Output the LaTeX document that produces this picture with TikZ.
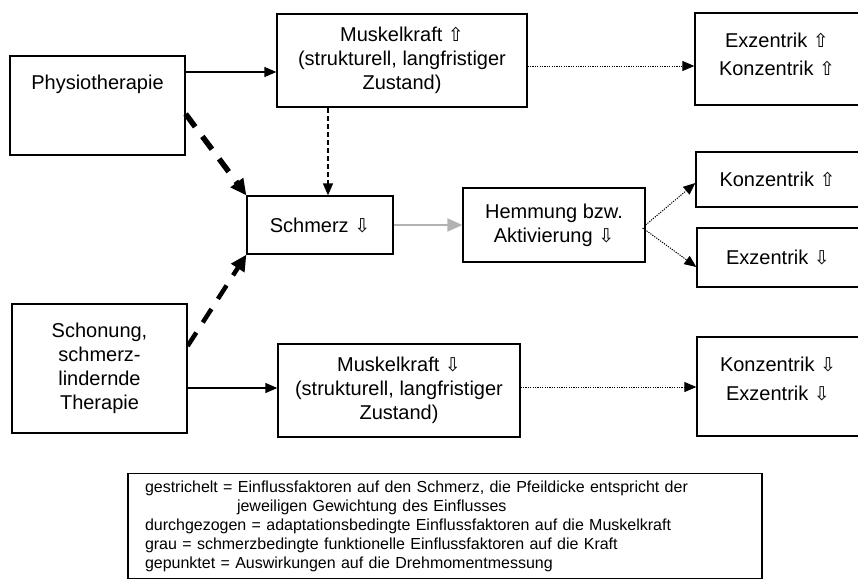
\documentclass[tikz,border=0pt]{standalone}
\usepackage{fontspec}
\setmainfont{Liberation Sans}
\newfontfamily\pfeilfont{DejaVu Sans}[Scale=0.95]
\usetikzlibrary{arrows.meta}
\newcommand\pfauf{{\pfeilfont ⇧}}
\newcommand\pfab{{\pfeilfont ⇩}}
\tikzset{
  box/.style={draw, line width=1.3pt, inner sep=0pt, align=center},
  durch/.style={line width=1.3pt, -{Triangle[length=12pt,width=10pt]}},
  punkt/.style={line width=1pt, dash pattern=on 1.2pt off 1.2pt,
    -{Triangle[length=12pt,width=10pt]}},
  strichel/.style={line width=1.5pt, dash pattern=on 5pt off 3pt,
    -{Triangle[length=12pt,width=10pt]}},
  dick/.style={line width=#1, dash pattern=on 16pt off 12pt,
    -{Triangle[length=16pt,width=15pt]}},
  grau/.style={draw=black!30, line width=2pt,
    -{Triangle[length=15pt,width=13pt,fill=black!30]}}
}
\begin{document}
\begin{tikzpicture}[x=1pt,y=-1pt,font=\fontsize{20}{24}\selectfont]
  \useasboundingbox (0,0) rectangle (858,578);
  \clip (0,0) rectangle (858,578);
  % Kaesten
  \node[box, minimum width=175pt, minimum height=99pt,
    label={[yshift=21.5pt]center:Physiotherapie}] (physio) at (97.5,105.5) {};
  \node[box, minimum width=175pt, minimum height=129pt] (schonung) at (99.5,368.5)
    {Schonung,\\schmerz-\\lindernde\\Therapie};
  \node[box, minimum width=250pt, minimum height=93pt] (mkauf) at (402,60.5)
    {Muskelkraft \pfauf\\(strukturell, langfristiger\\Zustand)};
  \node[box, minimum width=242pt, minimum height=93pt] (mkab) at (399,390.5)
    {Muskelkraft \pfab\\(strukturell, langfristiger\\Zustand)};
  \node[box, minimum width=146pt, minimum height=58pt] (schmerz) at (320,225)
    {Schmerz \pfab};
  \node[box, minimum width=182pt, minimum height=74pt] (hemmung) at (554,225)
    {Hemmung bzw.\\Aktivierung \pfab};
  \node[box, minimum width=164pt, minimum height=92pt,
    label={[yshift=5pt,align=center]center:Exzentrik \pfauf\\[4pt]Konzentrik \pfauf}]
    (exkonauf) at (777,59) {};
  \node[box, minimum width=163pt, minimum height=55pt] (konauf) at (777.5,179.5)
    {Konzentrik \pfauf};
  \node[box, minimum width=162pt, minimum height=59pt] (exab) at (778,257.5)
    {Exzentrik \pfab};
  \node[box, minimum width=162pt, minimum height=99pt,
    label={[yshift=8pt,align=center]center:Konzentrik \pfab\\[5pt]Exzentrik \pfab}]
    (konexab) at (778,386.5) {};
  % Legende
  \node[box, line width=1.6pt, minimum width=634pt, minimum height=105pt,
    text width=600pt, align=left, font=\fontsize{16}{19}\selectfont]
    (legende) at (445,526)
    {gestrichelt = Einflussfaktoren auf den Schmerz, die Pfeildicke entspricht der\\
     \hspace*{92pt}jeweiligen Gewichtung des Einflusses\\
     durchgezogen = adaptationsbedingte Einflussfaktoren auf die Muskelkraft\\
     grau = schmerzbedingte funktionelle Einflussfaktoren auf die Kraft\\
     gepunktet = Auswirkungen auf die Drehmomentmessung};
  % Pfeile
  \draw[durch] ([yshift=33.5pt]physio.east) coordinate (p1) -- (p1 -| mkauf.west);
  \draw[durch] ([yshift=-19.5pt]schonung.east) coordinate (p2) -- (p2 -| mkab.west);
  \draw[punkt] ([yshift=-5.5pt]mkauf.east) coordinate (p3) -- (p3 -| exkonauf.west);
  \draw[punkt] ([yshift=3.5pt]mkab.east) coordinate (p4) -- (p4 -| konexab.west);
  \draw[strichel] ([xshift=-74pt]mkauf.south) coordinate (p5) -- (p5 |- schmerz.north);
  \draw[dick=5.5pt] ([yshift=-8.5pt]physio.east) -- (schmerz.north west);
  \draw[dick=4.5pt] ([yshift=22.5pt]schonung.east) -- (schmerz.south west);
  \draw[grau] (schmerz) -- (hemmung);
  \draw[punkt] (hemmung.east) -- ([yshift=-3.5pt]konauf.west);
  \draw[punkt] ([xshift=-3pt,yshift=-3pt]hemmung.east) -- ([yshift=-9.5pt]exab.west);
\end{tikzpicture}
\end{document}
